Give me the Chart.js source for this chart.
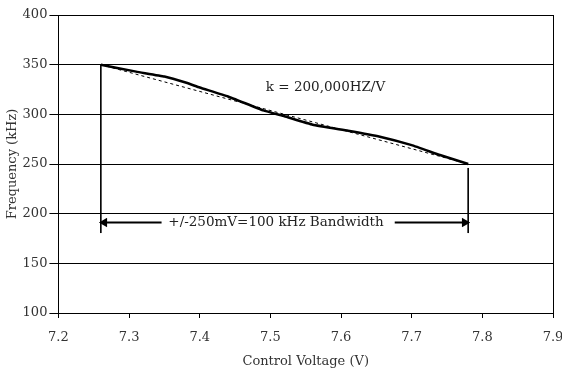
<!DOCTYPE html>
<html>
<head>
<meta charset="utf-8">
<script src="https://cdn.jsdelivr.net/npm/chart.js@4"></script>
<style>
    html, body { margin: 0; padding: 0; background: #fff; }
    #wrap { width: 562px; height: 369px; }
</style>
</head>
<body>
<div id="wrap"><canvas id="chart"></canvas></div>
<script>
/* global Chart */

const VOLTAGE = [7.26, 7.31, 7.35, 7.38, 7.40, 7.44, 7.49, 7.52, 7.56, 7.61, 7.655, 7.70, 7.74, 7.78],
    FREQUENCY = [350, 343, 338, 332, 327, 318, 304, 298, 289.5, 283.5, 277.5, 269, 259, 250],
    FIT_VOLTAGE = [7.26, 7.78],
    FIT_FREQUENCY = [350, 250],
    MARKER_LOW = 180.5,
    ARROW_LEVEL = 191,
    ARROW_LEFT = [7.265, 7.346],
    ARROW_RIGHT = [7.676, 7.775],
    X_TICKS = [7.2, 7.3, 7.4, 7.5, 7.6, 7.7, 7.8, 7.9],
    LABEL_SLOPE = "k = 200,000HZ/V",
    LABEL_SLOPE_AT = [7.578, 327.5],
    LABEL_BAND = "+/-250mV=100 kHz Bandwidth",
    LABEL_BAND_AT = [7.508, 191],
    LABEL_X_AXIS = "Control Voltage (V)",
    LABEL_Y_AXIS = "Frequency (kHz)";

const FONT = "'DejaVu Serif', 'Liberation Serif', serif",
    TEXT_COLOR = "#333";

function points(xs, ys) {
    let out = [];
    for (let i = 0; i < xs.length; i++) {
        out.push({ x: xs[i], y: ys[i] });
    }
    return out;
}

function plainLine(data, extra) {
    return Object.assign({
        data: data,
        borderColor: "#000",
        borderWidth: 1,
        pointRadius: 0,
        showLine: true,
        fill: false,
    }, extra || {});
}

const textPlugin = {
    id: "chartText",
    afterDatasetsDraw(chart) {
        const ctx = chart.ctx, x = chart.scales.x, y = chart.scales.y;
        ctx.save();
        ctx.fillStyle = "#222";
        ctx.font = "13.5px " + FONT;
        ctx.textAlign = "center";
        ctx.textBaseline = "middle";
        ctx.fillText(LABEL_SLOPE, x.getPixelForValue(LABEL_SLOPE_AT[0]), y.getPixelForValue(LABEL_SLOPE_AT[1]));
        ctx.fillText(LABEL_BAND, x.getPixelForValue(LABEL_BAND_AT[0]), y.getPixelForValue(LABEL_BAND_AT[1]));
        ctx.restore();
    },
};

new Chart(document.getElementById("chart"), {
    type: "scatter",
    data: {
        datasets: [
            plainLine(points(FIT_VOLTAGE, FIT_FREQUENCY), { borderDash: [3, 3], borderWidth: 1 }),
            plainLine(points(VOLTAGE, FREQUENCY), { borderWidth: 2.5, tension: 0.1 }),
            plainLine(points([FIT_VOLTAGE[0], FIT_VOLTAGE[0]], [FIT_FREQUENCY[0], MARKER_LOW])),
            plainLine(points([FIT_VOLTAGE[1], FIT_VOLTAGE[1]], [FIT_FREQUENCY[1] - 4, MARKER_LOW])),
            plainLine(points(ARROW_LEFT, [ARROW_LEVEL, ARROW_LEVEL]), {
                borderWidth: 2,
                pointStyle: "triangle",
                pointRadius: [3.5, 0],
                rotation: -90,
                pointBackgroundColor: "#000",
                pointBorderColor: "#000",
            }),
            plainLine(points(ARROW_RIGHT, [ARROW_LEVEL, ARROW_LEVEL]), {
                borderWidth: 2,
                pointStyle: "triangle",
                pointRadius: [0, 3.5],
                rotation: 90,
                pointBackgroundColor: "#000",
                pointBorderColor: "#000",
            }),
        ],
    },
    options: {
        responsive: true,
        maintainAspectRatio: false,
        animation: false,
        layout: { padding: { top: 15, right: 0, left: 0, bottom: 0 } },
        plugins: {
            legend: { display: false },
            tooltip: { enabled: false },
        },
        scales: {
            x: {
                type: "linear",
                min: 7.2,
                max: 7.9,
                afterBuildTicks(axis) {
                    axis.ticks = X_TICKS.map(v => ({ value: v }));
                },
                afterFit(axis) {
                    axis.height = 56;
                    axis.paddingRight = 9;
                },
                title: {
                    display: true,
                    text: LABEL_X_AXIS,
                    color: TEXT_COLOR,
                    font: { family: FONT, size: 13 },
                    padding: { top: 8, bottom: 0 },
                },
                ticks: {
                    color: TEXT_COLOR,
                    font: { family: FONT, size: 13 },
                    callback: v => v.toFixed(1),
                    maxRotation: 0,
                    padding: 12,
                },
                grid: {
                    color: ctx => (ctx.tick && ctx.tick.value === 7.9 ? "#000" : "rgba(0,0,0,0)"),
                    tickColor: "#000",
                    tickLength: 5,
                },
                border: { color: "#000", width: 1 },
            },
            y: {
                min: 100,
                max: 400,
                title: {
                    display: true,
                    text: LABEL_Y_AXIS,
                    color: TEXT_COLOR,
                    font: { family: FONT, size: 13 },
                    padding: { top: 5, bottom: 0 },
                },
                ticks: {
                    stepSize: 50,
                    color: TEXT_COLOR,
                    font: { family: FONT, size: 13 },
                    padding: 2,
                },
                grid: {
                    color: "#000",
                    tickColor: "#000",
                    tickLength: 9,
                },
                border: { color: "#000", width: 1 },
            },
        },
    },
    plugins: [textPlugin],
});
</script>
</body>
</html>
